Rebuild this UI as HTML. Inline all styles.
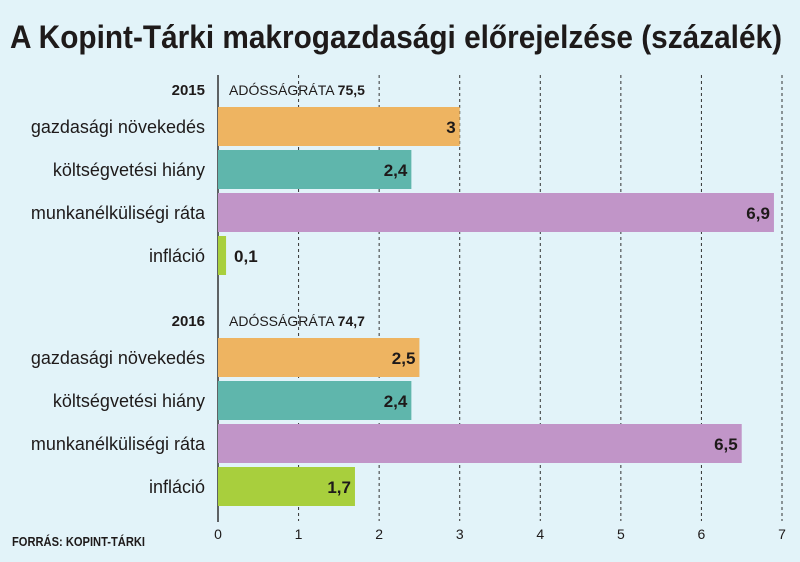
<!DOCTYPE html>
<html><head><meta charset="utf-8"><style>
html,body{margin:0;padding:0;background:#e2f3f9;}
svg{display:block;font-family:"Liberation Sans",sans-serif;}
</style></head><body>
<svg id="chart" width="800" height="562" viewBox="0 0 800 562" xmlns="http://www.w3.org/2000/svg">
<rect width="800" height="562" fill="#e2f3f9"/>
<text x="10" y="48" font-size="32" font-weight="bold" fill="#1e1a1a" textLength="772" lengthAdjust="spacingAndGlyphs">A Kopint-Tárki makrogazdasági előrejelzése (százalék)</text>
<g id="grid"></g>
<g id="bars"></g>
<g id="labels"></g>
<text x="12" y="546" font-size="13" font-weight="bold" fill="#1e1a1a" textLength="133" lengthAdjust="spacingAndGlyphs">FORRÁS: KOPINT-TÁRKI</text>
</svg>
<script>
const years = ["2015", "2016"];
const debtRatios = ["75,5", "74,7"];
const categories = ["gazdasági növekedés", "költségvetési hiány", "munkanélküliségi ráta", "infláció"];
const values2015 = [3, 2.4, 6.9, 0.1];
const values2016 = [2.5, 2.4, 6.5, 1.7];
const valueLabels2015 = ["3", "2,4", "6,9", "0,1"];
const valueLabels2016 = ["2,5", "2,4", "6,5", "1,7"];
const ticks = [0, 1, 2, 3, 4, 5, 6, 7];

const NS = "http://www.w3.org/2000/svg";
const colors = ["#eeb461", "#5fb6ac", "#c195c8", "#a8cf3d"];
const x0 = 218, x1 = 782;
const xScale = v => x0 + (x1 - x0) * v / 7;
const grid = document.getElementById("grid"), barsG = document.getElementById("bars"), labelsG = document.getElementById("labels");
function mk(tag, attrs, parent, txt) {
  const e = document.createElementNS(NS, tag);
  for (const k in attrs) e.setAttribute(k, attrs[k]);
  if (txt !== undefined) e.textContent = txt;
  parent.appendChild(e);
  return e;
}
ticks.forEach(t => {
  const x = xScale(t);
  if (t > 0) {
    const l = mk("line", {x1: x, x2: x, y1: 75, y2: 521, stroke: "#333", "stroke-width": 1, "stroke-dasharray": "3,3"}, grid);
    
    
  }
  const tl = mk("text", {x: x, y: 539, "font-size": 14, "text-anchor": "middle", fill: "#1e1a1a"}, labelsG, String(t));
  
  
});
const groupTops = [107, 338];
const rowStep = 43, barH = 39;
[values2015, values2016].forEach((vals, gi) => {
  const valLabels = gi === 0 ? valueLabels2015 : valueLabels2016;
  const top = groupTops[gi];
  const yl = mk("text", {x: 205, y: top - 12, "font-size": 15, "font-weight": "bold", "text-anchor": "end", fill: "#1e1a1a"}, labelsG, years[gi]);
  
  
  const dl = mk("text", {x: 229, y: top - 12, "font-size": 14, fill: "#1e1a1a"}, labelsG);
  
  
  mk("tspan", {}, dl, "ADÓSSÁGRÁTA ");
  mk("tspan", {"font-weight": "bold"}, dl, debtRatios[gi]);
  vals.forEach((v, i) => {
    const y = top + i * rowStep;
    const r = mk("rect", {x: x0, y: y, width: xScale(v) - x0, height: barH, fill: colors[i]}, barsG);
    
    
    const cl = mk("text", {x: 205, y: y + 26, "font-size": 18, "text-anchor": "end", fill: "#1e1a1a"}, labelsG, categories[i]);
    
    
    const inside = xScale(v) - x0 > 40;
    const vl = mk("text", {x: inside ? xScale(v) - 4 : xScale(v) + 8, y: y + 26, "font-size": 17, "font-weight": "bold", "text-anchor": inside ? "end" : "start", fill: "#1e1a1a"}, labelsG, valLabels[i]);
    
    
  });
});
const ax = mk("line", {x1: x0, x2: x0, y1: 75, y2: 522, stroke: "#333", "stroke-width": 1.5}, grid);


</script>
</body></html>
